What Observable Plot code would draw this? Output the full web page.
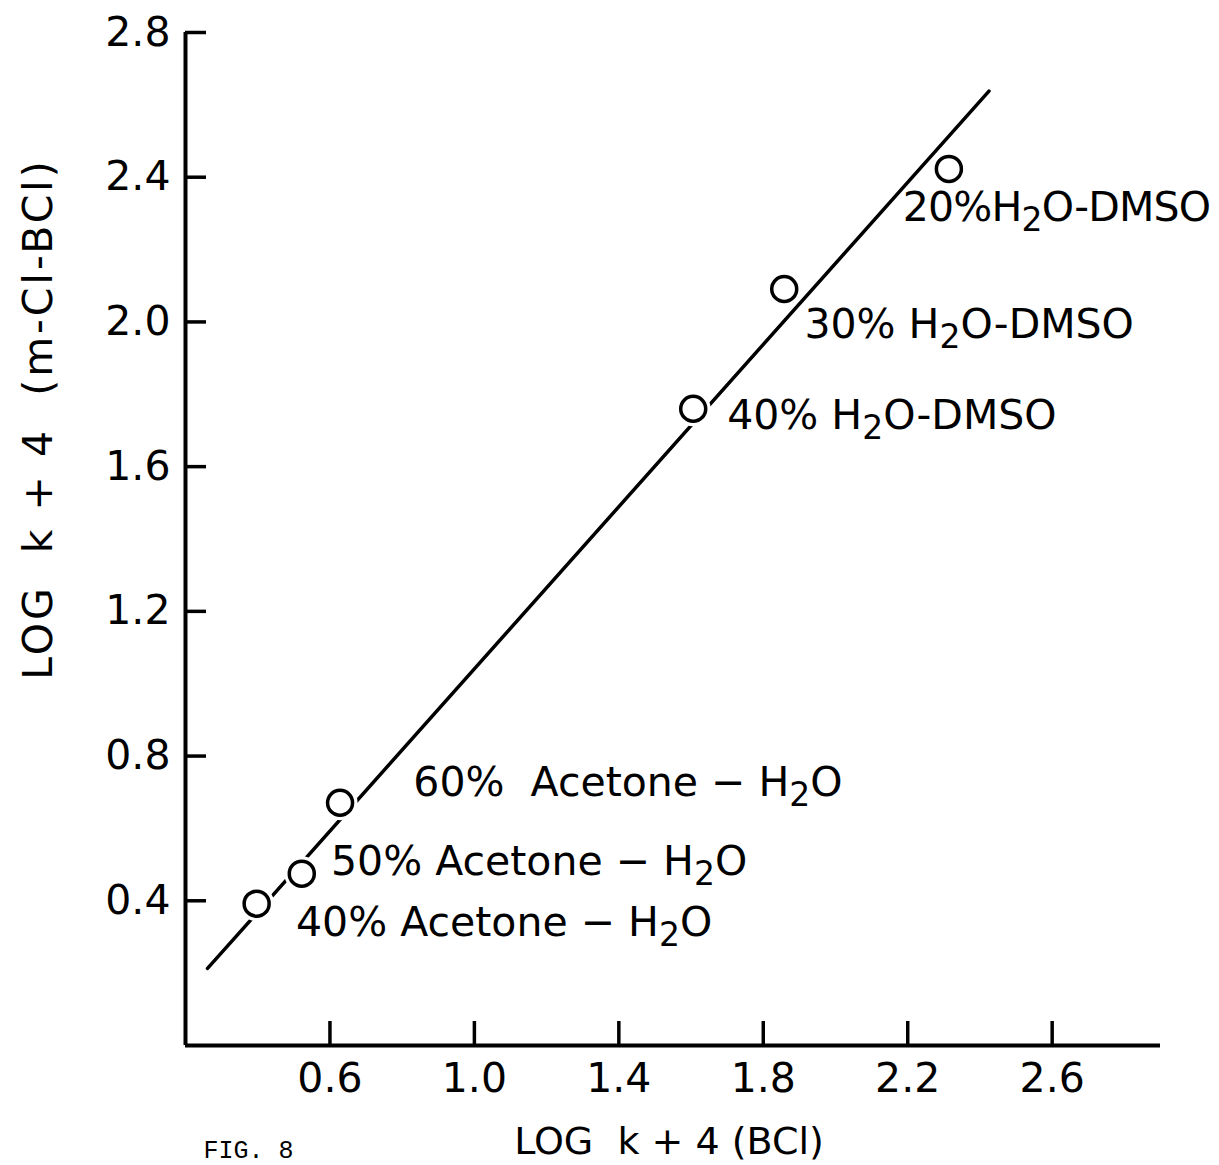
<!DOCTYPE html>
<html><head><meta charset="utf-8">
<script src="https://cdn.jsdelivr.net/npm/d3@7"></script>
<script src="https://cdn.jsdelivr.net/npm/@observablehq/plot@0.6"></script>
<style>body{margin:0;background:#fff} svg{display:block}</style>
</head><body><div id="chart"></div>
<script>
// measured points: log k + 4 (BCl) vs log k + 4 (m-Cl-BCl)
const bclX = [0.397, 0.522, 0.628, 1.606, 1.858, 2.314];
const mclY = [0.392, 0.475, 0.671, 1.760, 2.091, 2.423];
const solvents = ["40% Acetone − H₂O", "50% Acetone − H₂O", "60%  Acetone − H₂O", "40% H₂O-DMSO", "30% H₂O-DMSO", "20%H₂O-DMSO"];
// label anchor positions (data units)
const labelX = [0.506, 0.603, 0.831, 1.700, 1.914, 2.186];
const labelY = [0.304, 0.470, 0.691, 1.704, 1.956, 2.279];
// fitted straight line end points
const fitX = [0.261, 2.425];
const fitY = [0.213, 2.638];
const xTicks = [0.6, 1.0, 1.4, 1.8, 2.2, 2.6];
const yTicks = [0.4, 0.8, 1.2, 1.6, 2.0, 2.4, 2.8];
const xDomain = [0.2, 2.9];
const yDomain = [0, 2.8];
const xTitle = "LOG  k + 4 (BCl)";
const yTitle = "LOG  k + 4  (m-Cl-BCl)";
const figLabel = "FIG. 8";

const W = 1219, H = 1165, ML = 185, MR = 59, MT = 32, MB = 120;
const PW = W - ML - MR, PH = H - MT - MB;
const pts = bclX.map((x, i) => ({x, y: mclY[i]}));
const labs = solvents.map((s, i) => ({s, x: labelX[i], y: labelY[i]}));
const fit = fitX.map((x, i) => ({x, y: fitY[i]}));

const chart = Plot.plot({
  width: W, height: H,
  marginLeft: ML, marginRight: MR, marginTop: MT, marginBottom: MB,
  style: {fontFamily: "DejaVu Sans", color: "#000", background: "#fff"},
  x: {domain: xDomain, axis: null},
  y: {domain: yDomain, axis: null},
  marks: [
    Plot.ruleX([xDomain[0]], {stroke: "#000", strokeWidth: 4}),
    Plot.ruleY([yDomain[0]], {stroke: "#000", strokeWidth: 4}),
    Plot.tickX(xTicks, {x: d => d, insetTop: PH - 24, stroke: "#000", strokeWidth: 3.5}),
    Plot.tickY(yTicks, {y: d => d, insetRight: PW - 21, stroke: "#000", strokeWidth: 3.5}),
    Plot.axisX(xTicks, {tickSize: 0, tickPadding: 17, fontSize: 41, tickFormat: d3.format(".1f"), label: null}),
    Plot.axisY(yTicks, {tickSize: 0, tickPadding: 15, fontSize: 41, tickFormat: d3.format(".1f"), label: null}),
    Plot.line(fit, {x: "x", y: "y", stroke: "#000", strokeWidth: 3.5}),
    Plot.dot(pts, {x: "x", y: "y", r: 12, fill: "#fff", stroke: "#fff", strokeWidth: 11}),
    Plot.dot(pts, {x: "x", y: "y", r: 12.5, fill: "#fff", stroke: "#000", strokeWidth: 3.5}),
    Plot.text(labs, {x: "x", y: "y", text: "s", textAnchor: "start", lineAnchor: "bottom", fontSize: 41, fill: "#000"}),
    Plot.text([xTitle], {frameAnchor: "bottom", textAnchor: "middle", dx: -4, dy: 108, lineAnchor: "bottom", fontSize: 38, fill: "#000"}),
    Plot.text([yTitle], {frameAnchor: "left", textAnchor: "middle", dx: -147, dy: -120, rotate: -90, lineAnchor: "middle", fontSize: 41, fill: "#000"}),
    Plot.text([figLabel], {frameAnchor: "bottom-left", dx: 18, dy: 112, textAnchor: "start", lineAnchor: "bottom", fontSize: 25, fontFamily: "Liberation Mono", fill: "#000"})
  ]
});

// render H₂O with a lowered full-glyph subscript; adjust title/label spacing
const ns = "http://www.w3.org/2000/svg";
chart.querySelectorAll("text").forEach(t => {
  const s = t.textContent;
  if (s === yTitle) t.setAttribute("letter-spacing", "3");
  if (s === solvents[5]) t.setAttribute("letter-spacing", "-0.8");
  if (!s.includes("₂")) return;
  const [a, b] = s.split("₂");
  t.textContent = "";
  const t1 = document.createElementNS(ns, "tspan"); t1.textContent = a;
  const t2 = document.createElementNS(ns, "tspan"); t2.textContent = "2";
  t2.setAttribute("dy", "10"); t2.setAttribute("font-size", "33");
  const t3 = document.createElementNS(ns, "tspan"); t3.textContent = b; t3.setAttribute("dy", "-10");
  t.append(t1, t2, t3);
});
document.getElementById("chart").append(chart);
</script>
</body></html>
